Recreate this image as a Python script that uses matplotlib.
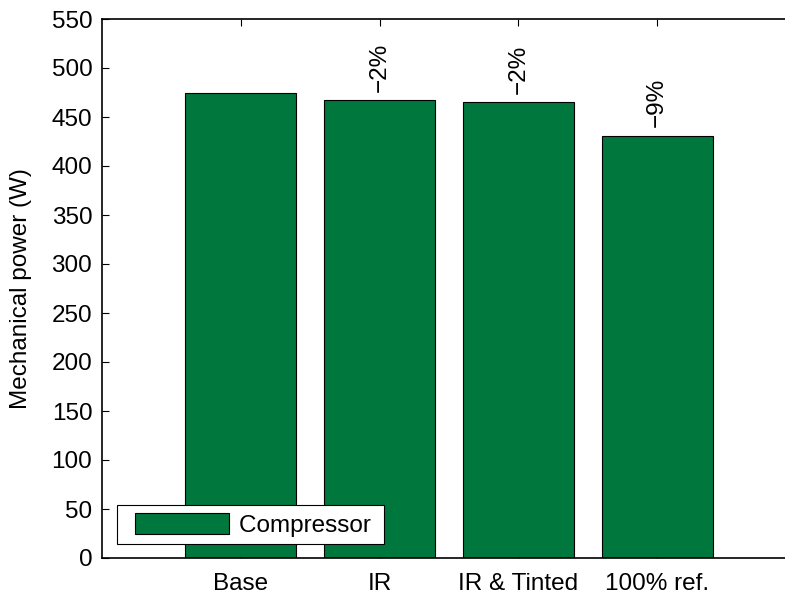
import matplotlib
matplotlib.use("Agg")
import matplotlib.pyplot as plt
from matplotlib.patches import Rectangle
from matplotlib.container import BarContainer
from matplotlib.legend_handler import HandlerPatch, update_from_first_child

categories = ["Base", "IR", "IR & Tinted", "100% ref."]
power = [475, 467, 465, 431]
change_labels = ["", "\u22122%", "\u22122%", "\u22129%"]
yticks = list(range(0, 551, 50))

FS = 17.5
plt.rcParams["font.family"] = ["Liberation Sans", "DejaVu Sans"]
plt.rcParams["font.size"] = FS

W, H = 785, 597
fig = plt.figure(figsize=(W / 100, H / 100), dpi=100)
ax = fig.add_axes([102 / W, 39 / H, 694 / W, 539 / H])

x = list(range(1, len(categories) + 1))
ax.bar(x, power, width=0.8, color="#00773C", edgecolor="black",
       linewidth=0.8, label="Compressor ", zorder=2)

for xi, val, lab in zip(x, power, change_labels):
    if lab:
        ax.annotate(lab, (xi, val), xytext=(0, 6), textcoords="offset points",
                    rotation=90, ha="center", va="bottom", fontsize=FS)

ax.set_xlim(0, 5)
ax.set_ylim(0, 550)
ax.set_xticks(x)
ax.set_xticklabels(categories)
ax.set_yticks(yticks)
ax.tick_params(direction="in", top=True, right=True, length=5, width=0.8,
               labelsize=FS)
ax.tick_params(axis="y", pad=7)
ax.tick_params(axis="x", pad=11)
for s in ax.spines.values():
    s.set_linewidth(1.2)
ax.set_ylabel("Mechanical power (W)", fontsize=FS, labelpad=14)


def inset_patch(legend, orig_handle, xdescent, ydescent, width, height, fontsize):
    # leave a gap between the frame and the swatch
    inset = 0.45 * fontsize
    return Rectangle((-xdescent + inset, -ydescent), width - inset, height)


leg = ax.legend(loc="lower left", bbox_to_anchor=(117 / W, 53 / H),
                bbox_transform=fig.transFigure, borderaxespad=0,
                fancybox=False, edgecolor="black", framealpha=1, fontsize=FS,
                handlelength=4.3, handleheight=1.0, borderpad=0.3,
                handletextpad=0.4,
                handler_map={BarContainer: HandlerPatch(
                    patch_func=inset_patch,
                    update_func=update_from_first_child)})
leg.get_frame().set_linewidth(0.8)

fig.savefig("out.png", dpi=100)
